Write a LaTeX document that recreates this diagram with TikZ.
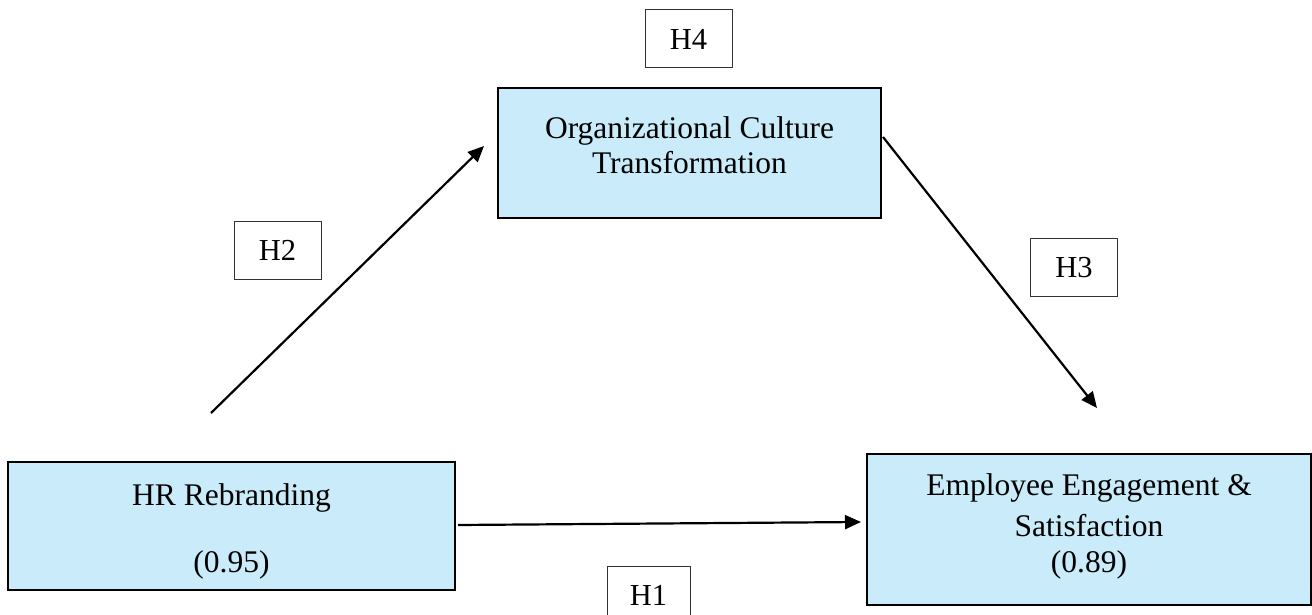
\documentclass[tikz,border=0pt]{standalone}
\usepackage{fontspec}
\setmainfont{Liberation Serif}
\usetikzlibrary{arrows.meta}
\definecolor{boxfill}{RGB}{201,235,250}
\begin{document}
\begin{tikzpicture}[x=1pt,y=-1pt,
  box/.style={draw=black,line width=2.2pt,fill=boxfill,rectangle,inner sep=0pt},
  hbox/.style={draw=black!80,line width=1pt,rectangle,minimum width=87pt,minimum height=58pt,inner sep=0pt,font=\fontsize{30.5}{36}\selectfont},
  txt/.style={align=center,font=\fontsize{31.5}{36}\selectfont},
  conn/.style={line width=2.2pt,-{Triangle[length=16pt,width=14pt]}}]
\useasboundingbox (0,0) rectangle (1312,615);
\node[box,minimum width=447pt,minimum height=128pt,
  label={[txt,yshift=-5.5pt]center:{HR Rebranding\\[31pt](0.95)}}] (hr) at (231.5,526) {};
\node[box,minimum width=383pt,minimum height=130pt,
  label={[txt,yshift=7.5pt,font=\fontsize{31.5}{35}\selectfont]center:{Organizational Culture\\Transformation}}] (oct) at (689.5,153) {};
\node[box,minimum width=444pt,minimum height=151pt,
  label={[txt,yshift=3pt]center:{Employee Engagement \&\\[5pt]Satisfaction\\(0.89)}}] (ees) at (1089,529.5) {};
\node[hbox] (h4) at (688.5,39) {H4};
\node[hbox] (h2) at (277.5,250) {H2};
\node[hbox] (h3) at (1074,267.5) {H3};
\node[hbox,minimum width=83pt] (h1) at (648.5,595) {H1};
\coordinate (s2) at (211,413);
\coordinate (e2) at (484,146);
\coordinate (s3) at (883,137);
\coordinate (e3) at (1097,408);
\coordinate (s1) at (458,525);
\coordinate (e1) at (861,522);
\draw[conn] (s2) -- (e2);
\draw[conn] (s3) -- (e3);
\draw[conn] (s1) -- (e1);
\end{tikzpicture}
\end{document}
